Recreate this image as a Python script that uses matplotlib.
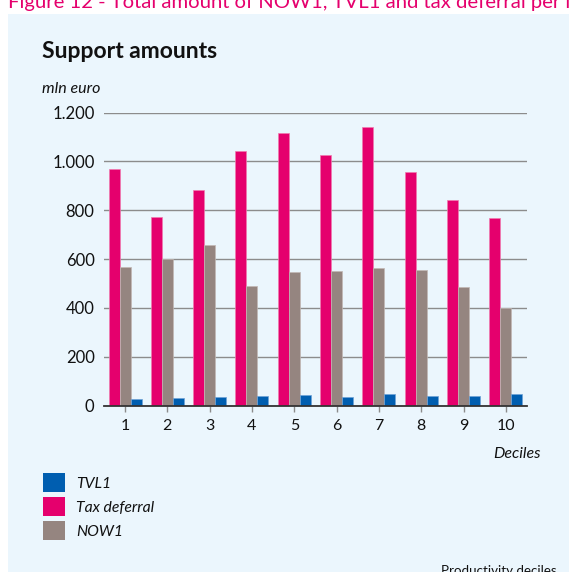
import numpy as np
import matplotlib
matplotlib.use("Agg")
import matplotlib.pyplot as plt
from matplotlib.patches import Rectangle
from matplotlib.ticker import FuncFormatter

# Support amounts per productivity decile (mln euro)
deciles = ["1", "2", "3", "4", "5", "6", "7", "8", "9", "10"]
tvl1 = [27, 31, 33, 38, 43, 35, 46, 39, 38, 46]
tax_deferral = [969, 770, 883, 1043, 1117, 1024, 1140, 958, 841, 767]
now1 = [567, 600, 657, 488, 547, 552, 564, 553, 486, 398]
y_ticks = [0, 200, 400, 600, 800, 1000, 1200]

series_names = ["TVL1", "Tax deferral", "NOW1"]

PINK = "#E5006D"
GREY = "#958580"
BLUE = "#005EB0"
PANEL = "#EBF6FD"
FONT = "Lato"

W, H = 569, 572
fig = plt.figure(figsize=(W / 100, H / 100), dpi=100)
fig.patch.set_facecolor("white")

# light blue panel behind the chart
fig.patches.append(Rectangle((8 / W, 0), 1 - 8 / W, 1 - 14 / H,
                             transform=fig.transFigure, facecolor=PANEL,
                             edgecolor="none", zorder=-10))

# figure caption running off the top edge
fig.text(8 / W, 1 - 8 / H,
         "Figure 12 - Total amount of NOW1, TVL1 and tax deferral per labour productivity decile",
         color=PINK, fontsize=14.6, family=FONT, ha="left", va="baseline")

fig.text(42 / W, 1 - 58 / H, "Support amounts", fontsize=16.5, fontweight="bold",
         family=FONT, color="#111111", ha="left", va="baseline")
fig.text(42 / W, 1 - 93 / H, "mln euro", fontsize=11.5, style="italic",
         family=FONT, color="#111111", ha="left", va="baseline")

ax = fig.add_axes([104.3 / W, 166.5 / H, 422.7 / W, 293 / H])
ax.set_facecolor("none")
ax.set_zorder(5)

x = np.arange(1, len(deciles) + 1)
w = 0.26
ax.bar(x - w, tax_deferral, w, color=PINK, edgecolor="#F07AAF", linewidth=0.5, zorder=3)
ax.bar(x, now1, w, color=GREY, edgecolor="#C2B8B4", linewidth=0.5, zorder=3)
ax.bar(x + w, tvl1, w, color=BLUE, edgecolor="#6FA3D6", linewidth=0.5, zorder=3)

ax.set_xlim(0.51, 10.5)
ax.set_ylim(0, 1200)
ax.set_yticks(y_ticks)
ax.yaxis.set_major_formatter(FuncFormatter(lambda v, p: f"{int(v):,}".replace(",", ".")))
ax.set_xticks(x)
ax.set_xticklabels(deciles)

ax.grid(axis="y", color="#8C8C8C", linewidth=1.0, zorder=1)
ax.set_axisbelow(True)
for s in ["top", "right", "left"]:
    ax.spines[s].set_visible(False)
ax.spines["bottom"].set_color("#333333")
ax.spines["bottom"].set_linewidth(1.3)
ax.spines["bottom"].set_zorder(4)

ax.tick_params(axis="y", length=0, pad=7, labelsize=12, labelcolor="#111111")
ax.tick_params(axis="x", length=4, width=1, color="#8C8C8C", pad=6,
               labelsize=11.5, labelcolor="#111111")
for lab in ax.get_xticklabels() + ax.get_yticklabels():
    lab.set_family(FONT)

fig.text(541 / W, 1 - 458 / H, "Deciles", fontsize=11.5, style="italic",
         family=FONT, color="#111111", ha="right", va="baseline")

# legend
legend_colors = [BLUE, PINK, GREY]
legend_tops = [473, 496.5, 520.5]
for name, col, top in zip(series_names, legend_colors, legend_tops):
    fig.patches.append(Rectangle((42.5 / W, 1 - (top + 19) / H), 22 / W, 19 / H,
                                 transform=fig.transFigure, facecolor=col,
                                 edgecolor="none", zorder=2))
    fig.text(76 / W, 1 - (top + 15) / H, name, fontsize=11.3, style="italic",
             family=FONT, color="#111111", ha="left", va="baseline")

fig.text(557 / W, 1 - 575 / H, "Productivity deciles", fontsize=9.6,
         family=FONT, color="#111111", ha="right", va="baseline")

fig.savefig("out.png", dpi=100, facecolor=fig.get_facecolor())
